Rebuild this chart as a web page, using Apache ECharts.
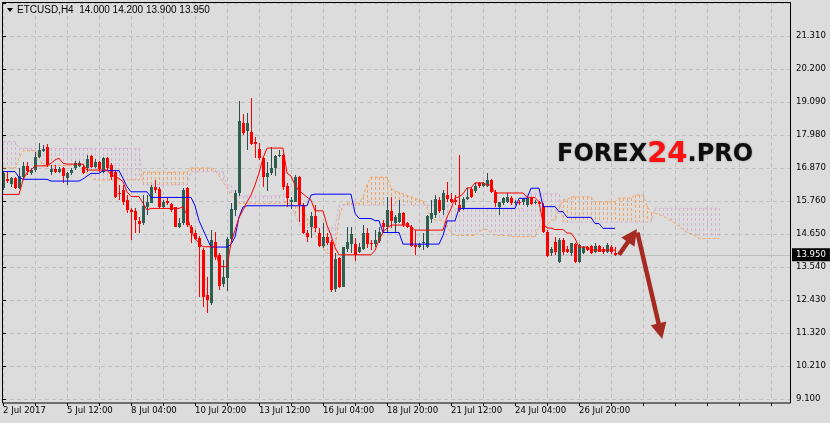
<!DOCTYPE html>
<html><head><meta charset="utf-8">
<script src="https://cdn.jsdelivr.net/npm/echarts@6/dist/echarts.min.js"></script>
<style>html,body{margin:0;padding:0;background:#dcdcdc;}#c{width:830px;height:423px;}</style>
</head><body><div id="c"></div>
<script>
// ---- data ----
const tickLabels = ["2 Jul 2017","5 Jul 12:00","8 Jul 04:00","10 Jul 20:00","13 Jul 12:00","16 Jul 04:00","18 Jul 20:00","21 Jul 12:00","24 Jul 04:00","26 Jul 20:00"];
const opens = [
16.19,16.50,16.33,16.52,16.19,16.58,16.94,16.71,16.80,17.25,
17.45,17.59,16.72,16.82,16.75,16.86,16.52,16.69,16.86,16.94,
16.92,16.88,17.27,16.92,17.08,16.75,17.19,16.97,16.75,16.04,
16.13,15.79,15.46,15.43,15.10,15.03,15.57,15.70,16.24,16.18,
15.55,15.76,15.66,15.55,14.90,15.01,16.19,14.90,14.69,14.50,
14.11,12.60,12.32,14.39,13.94,12.97,13.16,14.48,15.46,16.02,
18.37,18.10,18.09,17.73,17.50,17.20,16.58,16.69,16.86,17.26,
17.31,16.27,15.74,15.74,16.56,15.63,14.70,14.88,15.26,14.70,
14.25,14.56,14.39,12.79,13.83,12.88,14.14,14.31,14.31,14.03,
14.14,14.67,14.36,14.31,14.42,15.03,14.88,15.43,15.01,15.07,
15.37,15.01,14.90,14.28,14.20,14.39,14.22,15.17,15.29,15.79,
15.46,15.96,15.82,15.79,15.63,15.48,15.82,16.16,16.11,16.36,
16.27,16.27,16.47,16.07,15.57,15.68,15.74,15.85,15.71,15.74,
15.71,15.63,15.85,15.71,15.72,15.59,14.73,14.00,14.39,13.72,
14.45,14.14,14.00,14.31,13.72,14.02,14.20,14.25,14.06,14.25,
14.14,14.06,14.22,14.00];
const highs = [
16.78,16.75,16.58,16.56,16.86,17.08,17.08,16.86,17.42,17.70,
17.64,17.68,16.97,16.97,16.91,16.91,16.75,16.86,17.12,17.12,
16.97,17.31,17.31,17.16,17.12,17.25,17.25,17.03,16.80,16.30,
16.30,15.96,15.51,15.51,15.23,15.96,15.96,16.30,16.47,16.24,
15.79,15.85,15.68,15.57,15.18,16.19,16.24,14.95,14.78,14.58,
14.17,13.22,14.78,14.73,14.00,13.78,14.56,15.68,16.13,19.12,
18.68,18.71,19.21,17.92,17.70,17.25,17.08,17.59,17.31,17.48,
17.34,16.36,15.91,16.63,16.60,15.68,14.78,15.40,15.63,14.84,
15.01,14.67,14.45,14.00,13.89,14.22,14.88,14.88,14.50,14.34,
14.95,14.84,14.45,14.78,14.88,15.12,15.91,15.91,15.29,15.79,
15.40,15.07,14.95,14.78,14.36,14.67,15.29,15.79,15.96,15.91,
16.13,16.41,16.04,15.96,17.31,15.91,16.19,16.24,16.36,16.41,
16.41,16.69,16.49,16.13,15.74,15.91,16.02,15.93,15.79,15.79,
15.85,15.91,15.88,15.79,15.76,15.68,14.78,14.22,14.56,14.50,
14.50,14.25,14.36,14.36,14.31,14.25,14.25,14.28,14.34,14.28,
14.22,14.34,14.28,14.20];
const lows = [
16.12,16.35,16.24,16.15,16.15,16.47,16.64,16.64,16.75,17.20,
17.42,16.91,16.63,16.69,16.69,16.35,16.30,16.64,16.80,16.89,
16.67,16.75,16.86,16.86,16.75,16.70,16.80,16.47,15.86,15.79,
15.62,15.35,14.45,14.67,14.67,14.95,15.29,15.68,16.02,15.51,
15.51,15.62,15.40,14.87,14.84,14.95,14.90,14.34,14.45,12.53,
12.21,11.98,12.26,13.78,12.77,12.88,12.74,14.39,15.26,15.93,
17.98,17.48,17.64,17.20,17.14,16.24,16.11,16.63,16.60,17.25,
16.13,15.57,15.48,15.71,15.07,14.65,14.39,14.50,14.73,14.22,
14.17,14.28,12.71,12.71,12.82,12.86,14.06,14.02,13.75,14.00,
14.11,14.17,14.11,14.22,14.34,14.73,14.73,14.84,14.70,15.01,
14.88,14.84,14.22,13.94,14.17,14.11,14.17,15.01,15.18,15.35,
15.29,15.74,15.68,15.63,15.40,15.46,15.79,15.85,16.04,16.20,
16.22,16.24,16.02,15.57,15.29,15.63,15.68,15.63,15.63,15.63,
15.63,15.57,15.63,15.66,15.60,14.67,13.87,13.91,13.94,13.69,
13.94,14.00,13.91,13.69,13.69,13.98,14.08,13.98,14.02,14.03,
13.98,14.02,13.98,13.90];
const closes = [
16.69,16.44,16.52,16.19,16.60,16.94,16.78,16.80,17.23,17.48,
17.51,16.97,16.82,16.73,16.82,16.60,16.69,16.80,17.03,17.05,
16.71,17.16,16.89,17.08,16.82,17.20,16.86,16.58,15.91,15.98,
15.74,15.46,15.40,15.12,14.99,15.59,15.74,16.24,16.13,15.57,
15.74,15.70,15.46,14.90,15.03,16.13,14.95,14.67,14.47,14.22,
12.54,12.43,14.45,13.89,12.90,13.22,14.48,15.49,16.02,18.45,
18.06,18.40,17.68,17.68,17.20,16.58,16.69,16.86,17.27,17.31,
16.24,15.85,15.80,16.56,15.63,14.70,14.56,15.26,14.84,14.25,
14.56,14.34,12.75,13.81,12.86,14.20,14.39,14.65,13.94,14.20,
14.67,14.31,14.31,14.45,14.73,14.88,15.46,15.10,15.21,15.37,
14.95,14.88,14.25,14.22,14.31,14.39,15.26,15.35,15.82,15.43,
16.04,15.82,15.74,15.71,15.46,15.82,15.91,15.91,16.27,16.27,
16.38,16.47,16.07,15.68,15.71,15.85,15.91,15.68,15.74,15.68,
15.82,15.85,15.66,15.74,15.65,14.73,13.91,14.14,14.03,14.45,
14.06,14.06,14.34,13.72,14.28,14.20,14.11,14.00,14.25,14.06,
14.03,14.28,14.03,13.95];
const tenkan = [
15.98,15.98,15.98,15.98,15.98,16.47,16.72,16.80,16.94,16.94,
16.94,16.94,17.03,17.14,17.20,17.03,17.00,17.00,17.00,17.00,
17.00,16.80,16.80,16.80,16.80,16.80,16.80,16.64,16.58,16.52,
16.41,16.07,15.91,15.91,15.91,15.68,15.46,15.51,15.51,15.51,
15.51,15.51,15.51,15.51,15.51,15.57,15.29,14.78,14.50,14.35,
14.22,14.22,14.22,14.22,13.60,13.55,13.55,14.35,14.78,15.20,
15.45,15.73,15.96,16.30,16.70,17.20,17.54,17.54,17.54,17.54,
17.54,16.70,16.60,16.30,16.10,16.00,15.89,15.79,15.43,15.43,
15.43,14.95,14.60,14.20,13.95,13.95,13.95,13.95,13.95,13.95,
13.95,13.95,13.95,14.10,14.45,14.71,14.85,14.95,14.95,14.95,
14.95,14.95,14.90,14.78,14.78,14.78,14.78,14.78,14.78,14.78,
14.78,15.22,15.50,15.86,15.90,16.00,16.20,16.20,16.37,16.37,
16.37,16.30,16.30,16.03,16.03,16.03,16.03,16.03,16.03,16.03,
16.03,15.88,15.88,15.88,15.73,15.02,14.85,14.85,14.80,14.80,
14.80,14.68,14.68,14.50,14.21,14.21,14.21,14.11,14.11,14.11,
14.11,14.11,14.11,14.11];
const kijun = [
16.75,16.75,16.75,16.75,16.55,16.49,16.49,16.49,16.49,16.49,
16.49,16.49,16.43,16.43,16.43,16.43,16.43,16.43,16.43,16.43,
16.50,16.60,16.69,16.69,16.69,16.78,16.78,16.78,16.78,16.78,
16.52,16.24,16.07,16.07,16.07,16.07,16.07,15.88,15.88,15.88,
15.88,15.88,15.88,15.88,15.88,15.88,15.88,15.88,15.60,15.10,
14.80,14.50,14.21,14.21,14.21,14.21,14.21,14.30,14.55,15.22,
15.56,15.60,15.60,15.60,15.60,15.60,15.60,15.60,15.60,15.60,
15.60,15.60,15.60,15.60,15.60,15.60,15.60,15.96,15.99,15.99,
15.99,15.99,15.99,15.99,15.99,15.99,15.99,15.99,15.35,15.17,
15.17,15.17,15.17,15.10,15.10,14.70,14.70,14.70,14.70,14.70,
14.31,14.31,14.31,14.31,14.31,14.31,14.31,14.31,14.31,14.31,
14.60,15.09,15.09,15.09,15.51,15.51,15.51,15.51,15.51,15.51,
15.51,15.51,15.51,15.51,15.51,15.51,15.51,15.51,15.51,15.85,
15.85,15.85,16.19,16.19,16.19,15.57,15.57,15.57,15.57,15.40,
15.40,15.21,15.21,15.21,15.21,15.21,15.21,15.21,15.00,15.00,
14.84,14.84,14.84,14.84];
const spanA = [
16.87,16.87,16.87,16.87,17.20,17.45,17.45,17.45,17.45,17.20,
16.95,16.95,16.95,16.95,16.95,16.95,16.95,16.95,16.95,16.95,
16.87,16.70,16.55,16.47,16.47,16.47,16.47,16.47,16.47,16.47,
16.47,16.47,16.47,16.47,16.47,16.73,16.73,16.73,16.73,16.73,
16.73,16.73,16.73,16.73,16.73,16.73,16.73,16.87,16.87,16.87,
16.87,16.87,16.87,16.80,16.60,16.40,16.20,15.95,15.80,15.68,
15.68,15.68,15.68,15.68,15.68,15.68,15.68,15.68,15.68,15.68,
15.72,15.70,15.65,15.60,15.50,15.40,15.20,14.95,14.70,14.40,
14.20,14.00,14.00,14.10,15.20,15.62,15.69,15.69,15.69,15.69,
15.90,16.30,16.56,16.56,16.56,16.56,16.56,16.20,16.10,16.05,
16.00,15.95,15.90,15.85,15.80,15.75,15.50,15.20,15.12,15.12,
15.12,14.90,14.70,14.60,14.60,14.60,14.60,14.60,14.60,14.72,
14.80,14.80,14.70,14.60,14.60,14.60,14.60,14.56,14.56,14.56,
14.56,14.56,14.56,14.56,14.90,14.90,14.90,15.12,15.12,15.50,
15.80,15.80,15.90,15.90,15.90,15.90,15.90,15.90,15.73,15.73,
15.73,15.73,15.73,15.73,15.86,15.86,15.86,15.86,15.96,15.96,
15.96,15.60,15.35,15.35,15.30,15.25,15.18,15.10,15.00,14.90,
14.80,14.70,14.65,14.60,14.50,14.50,14.50,14.50,14.50,14.50];
const spanB = [
17.76,17.76,17.76,17.76,17.53,17.53,17.53,17.53,17.53,17.53,
17.53,17.53,17.53,17.53,17.53,17.53,17.53,17.53,17.53,17.53,
17.53,17.53,17.53,17.53,17.53,17.53,17.53,17.53,17.53,17.53,
17.53,17.53,17.53,17.53,17.53,16.30,16.30,16.30,16.30,16.30,
16.30,16.30,16.30,16.30,16.30,16.30,16.30,16.75,16.75,16.75,
16.75,16.75,16.75,16.75,16.75,16.75,16.30,16.30,15.93,15.93,
15.93,15.93,15.93,15.93,15.93,15.93,15.93,15.93,15.93,15.93,
16.00,16.00,15.60,15.30,15.00,14.86,14.86,14.86,14.86,14.86,
14.86,14.86,14.86,14.86,15.62,15.62,15.62,15.62,15.62,15.62,
15.62,15.62,15.62,15.62,15.62,15.62,15.62,15.62,15.62,15.62,
15.62,15.62,15.62,15.62,15.62,15.62,15.62,15.62,15.62,15.62,
15.62,15.62,15.62,15.50,15.50,15.50,15.50,15.50,15.50,15.50,
15.50,15.50,15.50,15.50,15.50,15.50,15.50,15.50,15.50,15.50,
15.50,16.00,16.00,16.00,16.00,16.00,16.00,16.00,16.00,16.00,
15.05,15.05,15.05,15.05,15.05,15.05,15.05,15.05,15.05,15.05,
15.05,15.05,15.05,15.05,15.05,15.05,15.05,15.05,15.05,15.05,
15.05,15.05,15.05,15.52,15.52,15.52,15.52,15.52,15.52,15.52,
15.52,15.52,15.52,15.52,15.52,15.52,15.52,15.52,15.52,15.52];
const lastPrice = 13.95;
const titleText = 'ETCUSD,H4  14.000 14.200 13.900 13.950';
// annotation arrows in data space [barIndex, price]
const arrowTails = [[154, 13.95], [158.6, 14.70]];
const arrowTips  = [[158.5, 14.82], [164.8, 11.12]];

// ---- styling ----
const BG = '#dcdcdc', GRIDC = '#c0c0c0';
const BULL = '#2f5f50', BULL_EDGE = '#2f4f4f', BEAR = '#ff0000';
const SANDY = '#f4a460', THISTLE = '#d2b4d2', ARROW = '#a52a22';
const AXF = "'DejaVu Sans Condensed','Liberation Sans Narrow',sans-serif";

const candleData = opens.map((o, i) => [i, o, highs[i], lows[i], closes[i]]);
const cloudData = spanA.map((a, i) => [i, a, spanB[i]]);
const pair = arr => arr.map((v, i) => [i, v]);

const chart = echarts.init(document.getElementById('c'), null, {renderer: 'canvas'});

function renderCandle(params, api) {
  const i = api.value(0), o = api.value(1), h = api.value(2), l = api.value(3), c = api.value(4);
  const pO = api.coord([i, o]), pC = api.coord([i, c]), pH = api.coord([i, h]), pL = api.coord([i, l]);
  const x = Math.round(pO[0]);
  const up = c >= o;
  const top = Math.round(Math.min(pO[1], pC[1])), bot = Math.round(Math.max(pO[1], pC[1]));
  return {type: 'group', children: [
    {type: 'line', shape: {x1: x + 0.5, y1: Math.round(pH[1]), x2: x + 0.5, y2: Math.round(pL[1])},
     style: {stroke: up ? BULL_EDGE : BEAR, lineWidth: 1}},
    {type: 'rect', shape: {x: x - 1, y: top, width: 3, height: Math.max(1, bot - top)},
     style: {fill: up ? BULL : BEAR, stroke: null}}
  ]};
}
function renderHatch(params, api) {
  const i = api.value(0), a = api.value(1), b = api.value(2);
  const pA = api.coord([i, a]), pB = api.coord([i, b]);
  const x = Math.round(pA[0]) + 0.5;
  const y1 = Math.round(Math.min(pA[1], pB[1])), y2 = Math.round(Math.max(pA[1], pB[1]));
  return {type: 'line', shape: {x1: x, y1: y1, x2: x, y2: y2},
          style: {stroke: a >= b ? SANDY : THISTLE, lineWidth: 1, lineDash: [3, 2]}};
}

const option = {
  backgroundColor: BG,
  animation: false,
  grid: {left: 3, right: 40, top: 2, bottom: 24, containLabel: false},
  xAxis: {
    type: 'value', min: 0, max: 196.75, interval: 8, offset: 4,
    axisLine: {show: false},
    axisTick: {show: true, length: 3, lineStyle: {color: '#000'}},
    axisLabel: {
      show: true, color: '#000', fontFamily: AXF, fontSize: 9.5, align: 'left', margin: 3,
      showMaxLabel: false,
      formatter: v => (v % 16 === 0 && v / 16 < tickLabels.length) ? tickLabels[v / 16] : ''
    },
    splitLine: {show: true, lineStyle: {color: GRIDC, type: [4, 3], width: 1}}
  },
  yAxis: {
    type: 'value', position: 'right', min: 9.1, max: 9.1 + 397 / 29.73, interval: 1.11,
    axisLine: {show: false},
    axisTick: {show: true, length: 3, lineStyle: {color: '#000'}},
    axisLabel: {color: '#000', fontFamily: AXF, fontSize: 9.5, margin: 6, showMaxLabel: false,
      formatter: v => v > 22 ? '' : v.toFixed(3)},
    splitLine: {show: true, lineStyle: {color: GRIDC, type: [4, 3], width: 1}}
  },
  series: [
    {type: 'custom', name: 'cloud', data: cloudData, renderItem: renderHatch, clip: true, silent: true, z: 1},
    {type: 'line', name: 'spanA', data: pair(spanA), showSymbol: false, silent: true, z: 2,
     lineStyle: {color: SANDY, width: 1, type: [3, 2]}},
    {type: 'line', name: 'spanB', data: pair(spanB), showSymbol: false, silent: true, z: 2,
     lineStyle: {color: THISTLE, width: 1, type: [3, 2]}},
    {type: 'custom', name: 'candles', data: candleData, renderItem: renderCandle, clip: true, silent: true, z: 3},
    {type: 'line', name: 'kijun', data: pair(kijun), showSymbol: false, silent: true, z: 4,
     lineStyle: {color: '#0000ff', width: 1}},
    {type: 'line', name: 'tenkan', data: pair(tenkan), showSymbol: false, silent: true, z: 4,
     lineStyle: {color: '#ff0000', width: 1},
     markLine: {symbol: 'none', silent: true, animation: false, z: 0,
       data: [{yAxis: lastPrice}],
       lineStyle: {color: '#bdbdbd', type: 'solid', width: 1},
       label: {show: true, position: 'end', distance: 2, formatter: lastPrice.toFixed(3),
         backgroundColor: '#000', color: '#fff', fontFamily: AXF, fontSize: 9.5, padding: [2, 4, 1, 4]}}}
  ]
};
chart.setOption(option);

// overlays: frame, title, watermark, arrows
const g = [];
g.push({type: 'rect', shape: {x: 2.5, y: 2.5, width: 788, height: 400.5},
        style: {fill: null, stroke: '#000', lineWidth: 1}, z: 100, silent: true});
g.push({type: 'polygon', shape: {points: [[7, 8], [13, 8], [10, 12]]}, style: {fill: '#000'}, z: 100});
g.push({type: 'text', x: 17, y: 5, style: {text: titleText, fill: '#000', fontSize: 10, fontFamily: "'Liberation Sans',Arial,sans-serif"}, z: 100});
g.push({type: 'text', x: 557, y: 140, z: 50, silent: true, style: {
  text: '{a|FOREX}{b|24}{a|.PRO}',
  rich: {
    a: {fontSize: 24, fontWeight: 'bold', fontFamily: "'DejaVu Sans',sans-serif", fill: '#0e0e0e'},
    b: {fontSize: 29, fontWeight: 'bold', fontFamily: "'DejaVu Sans',sans-serif", fill: '#ff1111'}
  },
  textShadowColor: 'rgba(0,0,0,0.35)', textShadowBlur: 2
}});
arrowTails.forEach((t, k) => {
  const p0 = chart.convertToPixel({gridIndex: 0}, t);
  const p1 = chart.convertToPixel({gridIndex: 0}, arrowTips[k]);
  const dx = p1[0] - p0[0], dy = p1[1] - p0[1], len = Math.hypot(dx, dy);
  const ux = dx / len, uy = dy / len, nx = -uy, ny = ux;
  const hl = 16, hw = 8;
  const bx = p1[0] - ux * hl, by = p1[1] - uy * hl;
  g.push({type: 'line', shape: {x1: p0[0], y1: p0[1], x2: bx + ux * 2, y2: by + uy * 2},
          style: {stroke: ARROW, lineWidth: 4.5, lineCap: 'butt'}, z: 60});
  g.push({type: 'polygon', shape: {points: [[p1[0], p1[1]], [bx + nx * hw, by + ny * hw], [bx - nx * hw, by - ny * hw]]},
          style: {fill: ARROW}, z: 60});
});
chart.setOption({graphic: g});
</script>
</body></html>
